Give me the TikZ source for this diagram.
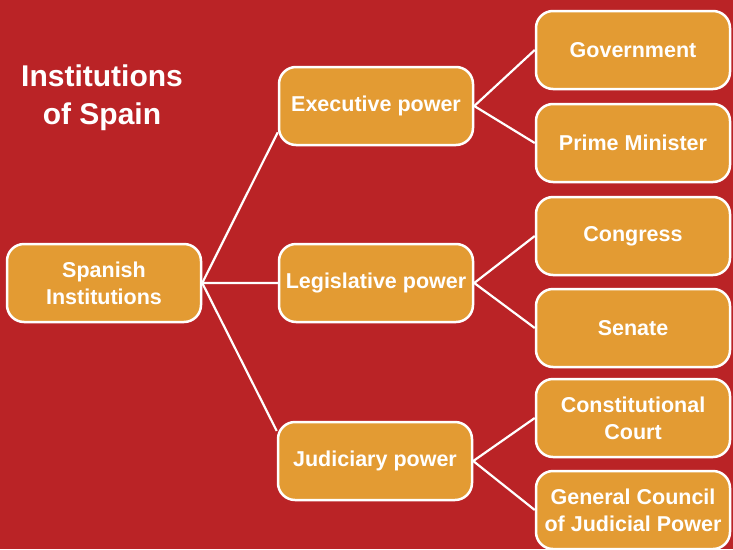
\documentclass[tikz,border=0pt]{standalone}
\usepackage{fontspec}
\setmainfont{Liberation Sans}
\usepackage{tikz}
\definecolor{bgred}{HTML}{BA2326}
\definecolor{boxorange}{HTML}{E39B33}

\begin{document}
\begin{tikzpicture}[x=1pt,y=-1pt,
  box/.style={draw=white, line width=2.5pt, fill=boxorange, rounded corners=17pt,
    minimum width=194pt, minimum height=78pt, align=center, text=white,
    font=\fontsize{21.5}{27}\selectfont\bfseries, inner sep=2pt},
  link/.style={draw=white, line width=2.2pt}]
\fill[bgred] (0,0) rectangle (733,549);
\useasboundingbox (0,0) rectangle (733,549);

\node[text=white, align=center, font=\fontsize{30}{38}\selectfont\bfseries] (T) at (102,98) {Institutions\\of Spain};

\node[box] (SI) at (104,283) {Spanish\\Institutions};
\node[box] (EP) at (376,106) {Executive power};
\node[box] (LP) at (376,283) {Legislative power};
\node[box] (JP) at (375,461) {Judiciary power};
\node[box] (GOV) at (633,50) {Government};
\node[box] (PM) at (633,143) {Prime Minister};
\node[box] (CON) at (633,236) {Congress};
\node[box] (SEN) at (633,328) {Senate};
\node[box] (CC) at (633,418) {Constitutional\\Court};
\node[box] (GC) at (633,510) {General Council\\of Judicial Power};

\draw[link] (EP.195) -- (SI.east) -- (LP.west);
\draw[link] (SI.east) -- (JP.163);
\draw[link] (GOV.west) -- (EP.east) -- (PM.west);
\draw[link] (CON.west) -- (LP.east) -- (SEN.west);
\draw[link] (CC.west) -- (JP.east) -- (GC.west);
\end{tikzpicture}
\end{document}
